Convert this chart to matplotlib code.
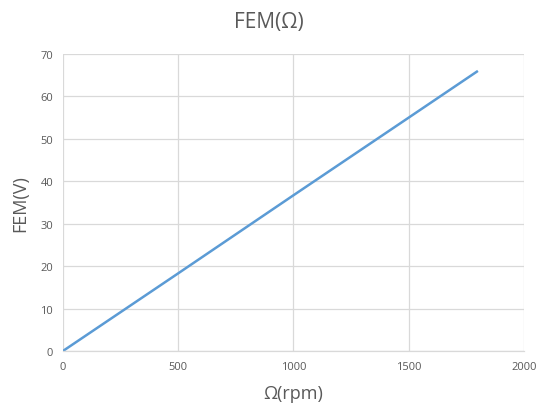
import matplotlib
matplotlib.use("Agg")
import matplotlib.pyplot as plt

# values
omega_rpm = [0, 500, 1000, 1500, 1800]
fem_v = [0, 18.3, 36.7, 55.0, 66.0]

x_ticks = [0, 500, 1000, 1500, 2000]
y_ticks = [0, 10, 20, 30, 40, 50, 60, 70]

plt.rcParams['font.family'] = ['Open Sans', 'DejaVu Sans']

fig = plt.figure(figsize=(5.38, 4.10), dpi=100)
ax = fig.add_axes([0.117, 0.1415, 0.857, 0.7245])

ax.plot(omega_rpm, fem_v, color='#5b9bd5', linewidth=1.8, solid_capstyle='butt')

ax.set_xlim(0, 2000)
ax.set_ylim(0, 70)
ax.set_xticks(x_ticks)
ax.set_yticks(y_ticks)
ax.grid(True, color='#d9d9d9', linewidth=0.9)
ax.set_axisbelow(True)

for side in ['top', 'right', 'left']:
    ax.spines[side].set_visible(False)
ax.spines['bottom'].set_color('#d9d9d9')
ax.spines['bottom'].set_linewidth(0.9)
ax.tick_params(length=0, labelsize=8, colors='#595959', pad=7)

ax.set_xlabel('Ω(rpm)', fontsize=13, color='#595959', labelpad=9)
ax.set_ylabel('FEM(V)', fontsize=13, color='#595959', labelpad=8)
fig.suptitle('FEM(Ω)', fontsize=15, color='#595959', y=0.97)

fig.savefig('out.png', dpi=100)
